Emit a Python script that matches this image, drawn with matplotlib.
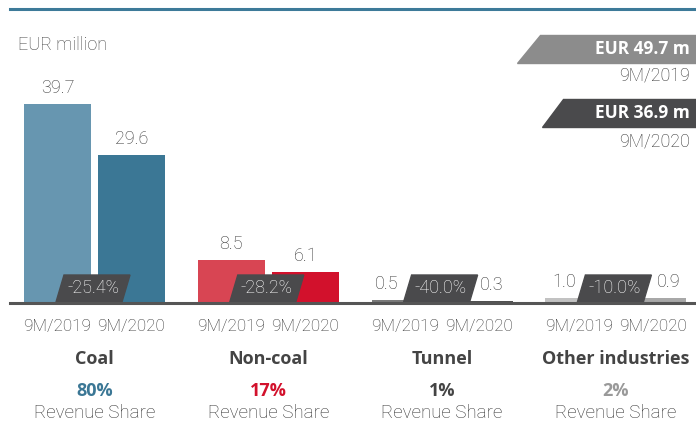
import matplotlib
matplotlib.use("Agg")
import matplotlib.pyplot as plt
from matplotlib.patches import Polygon

plt.rcParams['font.family'] = ['Roboto', 'DejaVu Sans']
plt.rcParams['font.weight'] = 'light'

# data
categories = ["Coal", "Non-coal", "Tunnel", "Other industries"]
periods = ["9M/2019", "9M/2020"]
rev_2019 = [39.7, 8.5, 0.5, 1.0]
rev_2020 = [29.6, 6.1, 0.3, 0.9]
changes = ["-25.4%", "-28.2%", "-40.0%", "-10.0%"]
shares = ["80%", "17%", "1%", "2%"]
totals = ["EUR 49.7 m", "EUR 36.9 m"]

# colours
c2019 = ["#6796b0", "#d84553", "#7a7a7a", "#c2c2c2"]
c2020 = ["#3b7795", "#d2112c", "#505050", "#a8a8a8"]
share_colors = ["#3b7795", "#d2112c", "#444444", "#999999"]
text_gray = "#333333"
badge_gray = "#4a4a4c"
bold_font = ['Open Sans', 'DejaVu Sans']

# small bars get their labels pushed sideways (px) to clear the badge
lab_dx_2019 = [0, 0, -18, -15]
lab_dx_2020 = [0, 0, 13, 16]

W, H = 696, 423
fig = plt.figure(figsize=(W / 100, H / 100), dpi=100)

def fx(x):
    return x / W

def fy(y):
    return 1 - y / H

# axes: baseline at y=303 px, ~5.01 px per EUR million
base_px = 303
ppu = 5.01
spacing = 173.8
c0 = 94.5
ax = fig.add_axes([0, fy(base_px), 1, base_px / H])
ax.set_xlim(-c0 / spacing, (W - c0) / spacing)
ax.set_ylim(0, base_px / ppu)
ax.axis("off")

bw = 67 / spacing
off = 37 / spacing
xs = list(range(len(categories)))
x1 = [x - off for x in xs]
x2 = [x + off for x in xs]
ax.bar(x1, rev_2019, width=bw, color=c2019, zorder=2)
ax.bar(x2, rev_2020, width=bw, color=c2020, zorder=2)

lab_font = dict(fontsize=13, color=text_gray, ha="center", va="center")
for i in xs:
    ax.text(x1[i] + lab_dx_2019[i] / spacing, rev_2019[i] + 16 / ppu,
            f"{rev_2019[i]:.1f}", **lab_font)
    ax.text(x2[i] + lab_dx_2020[i] / spacing, rev_2020[i] + 16 / ppu,
            f"{rev_2020[i]:.1f}", **lab_font)

# change badges (parallelograms)
bwid = 66 / spacing
slant = 8 / spacing
bh = 28 / ppu
for i in xs:
    cx = i - 1.5 / spacing
    pts = [(cx - bwid / 2 - slant / 2, 0.2), (cx + bwid / 2 - slant / 2, 0.2),
           (cx + bwid / 2 + slant / 2, bh), (cx - bwid / 2 + slant / 2, bh)]
    ax.add_patch(Polygon(pts, closed=True, color=badge_gray, zorder=3))
    ax.text(cx, bh / 2 + 0.1, changes[i], fontsize=13, color="white",
            ha="center", va="center", zorder=4)

# baseline and top rule
fig.add_artist(plt.Line2D([fx(10), 1], [fy(303), fy(303)], color="#555555", lw=2.2))
fig.add_artist(plt.Line2D([fx(10), 1], [fy(9), fy(9)], color="#3d7a99", lw=2.2))

fig.text(fx(18), fy(45), "EUR million", fontsize=13, color="#444444",
         ha="left", va="center")

# x tick labels and category info
for i in xs:
    for xx, p in zip([x1[i], x2[i]], periods):
        px = c0 + xx * spacing
        fig.text(fx(px), fy(326), p, fontsize=12.3, color=text_gray,
                 ha="center", va="center")
    gx = c0 + i * spacing
    fig.text(fx(gx), fy(359), categories[i], fontsize=13, color="#444444",
             ha="center", va="center", fontweight="bold", family=bold_font)
    fig.text(fx(gx), fy(391), shares[i], fontsize=13, color=share_colors[i],
             ha="center", va="center", fontweight="bold", family=bold_font)
    fig.text(fx(gx), fy(413), "Revenue Share", fontsize=13.5, color=text_gray,
             ha="center", va="center")

# totals in the top right
boxes = [(35, 63, 517, 540, "#8c8c8c", 75), (99, 127, 542, 563, badge_gray, 141)]
for (top, bot, bl, tl, col, sub_y), tot, per in zip(boxes, totals, periods):
    pts = [(fx(bl), fy(bot)), (fx(W), fy(bot)), (fx(W), fy(top)), (fx(tl), fy(top))]
    fig.add_artist(Polygon(pts, closed=True, color=col, transform=fig.transFigure))
    fig.text(fx(690), fy((top + bot) / 2), tot, fontsize=12.5, color="white",
             ha="right", va="center", fontweight="bold", family=bold_font)
    fig.text(fx(690), fy(sub_y), per, fontsize=12.8, color=text_gray,
             ha="right", va="center")

fig.savefig("out.png", dpi=100)
